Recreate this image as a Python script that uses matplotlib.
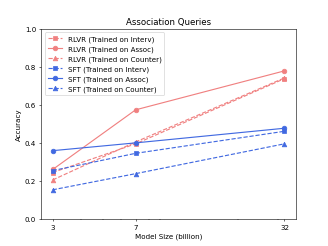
import matplotlib
matplotlib.use("Agg")
import matplotlib.pyplot as plt
from matplotlib.ticker import NullFormatter

sizes = [3, 7, 32]
tick_labels = ["3", "7", "32"]

rlvr_interv = [0.244, 0.395, 0.738]
rlvr_assoc = [0.260, 0.574, 0.779]
rlvr_counter = [0.205, 0.405, 0.742]
sft_interv = [0.254, 0.345, 0.461]
sft_assoc = [0.359, 0.400, 0.477]
sft_counter = [0.153, 0.238, 0.395]

red = "#F08080"
blue = "#4169E1"

fig, ax = plt.subplots(figsize=(6.4, 4.8), dpi=51.4)
kw = dict(linewidth=1.6, markersize=6.5)
ax.plot(sizes, rlvr_interv, color=red, linestyle="--", marker="s", label="RLVR (Trained on Interv)", **kw)
ax.plot(sizes, rlvr_assoc, color=red, linestyle="-", marker="o", label="RLVR (Trained on Assoc)", **kw)
ax.plot(sizes, rlvr_counter, color=red, linestyle="--", marker="^", label="RLVR (Trained on Counter)", **kw)
ax.plot(sizes, sft_interv, color=blue, linestyle="--", marker="s", label="SFT (Trained on Interv)", **kw)
ax.plot(sizes, sft_assoc, color=blue, linestyle="-", marker="o", label="SFT (Trained on Assoc)", **kw)
ax.plot(sizes, sft_counter, color=blue, linestyle="--", marker="^", label="SFT (Trained on Counter)", **kw)

ax.set_xscale("log")
ax.set_xticks(sizes)
ax.set_xticklabels(tick_labels)
ax.xaxis.set_minor_formatter(NullFormatter())
ax.set_ylim(0, 1.0)
ax.set_xlabel("Model Size (billion)")
ax.set_ylabel("Accuracy")
ax.set_title("Association Queries")
ax.legend(loc="upper left")

fig.savefig("out.png", dpi=51.4)
